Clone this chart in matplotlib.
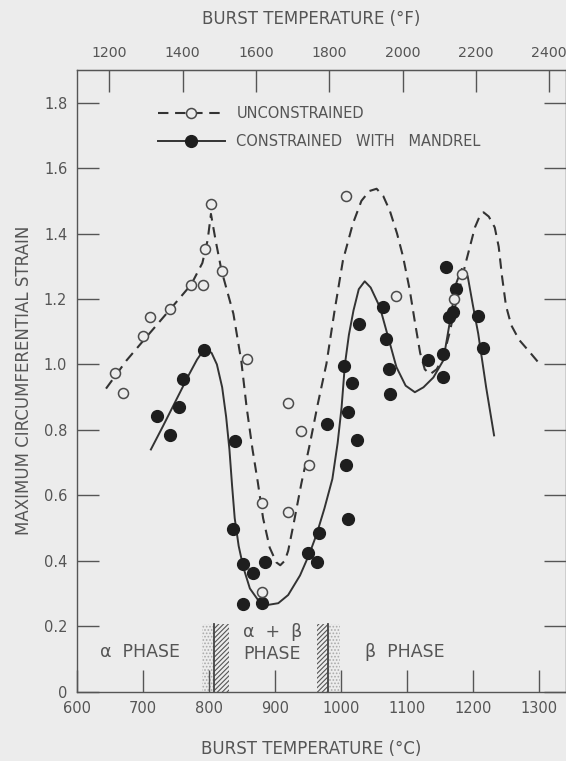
import numpy as np
import matplotlib.pyplot as plt
from matplotlib.lines import Line2D

# test points (deg C, strain)
unc_temp = [658, 670, 700, 711, 741, 773, 791, 794, 803, 819, 857, 880, 881,
            919, 920, 940, 952, 1007, 1083, 1171, 1183]
unc_strain = [0.975, 0.912, 1.088, 1.144, 1.168, 1.244, 1.243, 1.353, 1.491,
              1.287, 1.017, 0.575, 0.305, 0.549, 0.882, 0.796, 0.694, 1.514,
              1.209, 1.20, 1.277]

con_temp = [722, 741, 754, 761, 793, 840, 837, 852, 852, 866, 881, 885, 950,
            964, 966, 979, 1004, 1016, 1011, 1024, 1007, 1010, 1028, 1063,
            1069, 1073, 1074, 1132, 1155, 1154, 1159, 1175, 1170, 1164, 1207,
            1215]
con_strain = [0.841, 0.783, 0.870, 0.954, 1.043, 0.765, 0.498, 0.391, 0.269,
              0.361, 0.272, 0.396, 0.424, 0.395, 0.485, 0.818, 0.994, 0.943,
              0.853, 0.769, 0.691, 0.527, 1.124, 1.175, 1.078, 0.986, 0.911,
              1.013, 1.031, 0.963, 1.297, 1.231, 1.160, 1.146, 1.147, 1.050]

# faired curves
unc_curve_temp = [644, 675, 710, 741, 773, 790, 798, 803, 810, 819, 837, 849,
                  857, 866, 874, 882, 892, 902, 908, 915, 920, 928, 940, 953,
                  965, 978, 990, 1003, 1018, 1031, 1043, 1054, 1064, 1074,
                  1085, 1094, 1104, 1112, 1120, 1127, 1135, 1145, 1155, 1165,
                  1175, 1190, 1203, 1210, 1216, 1224, 1233, 1239, 1244, 1250,
                  1258, 1270, 1285, 1300]
unc_curve_strain = [0.926, 1.012, 1.095, 1.168, 1.244, 1.31, 1.38, 1.46, 1.38,
                    1.287, 1.155, 1.01, 0.87, 0.74, 0.64, 0.53, 0.44, 0.395,
                    0.386, 0.40, 0.43, 0.51, 0.636, 0.758, 0.88, 1.002, 1.16,
                    1.318, 1.43, 1.50, 1.53, 1.537, 1.515, 1.47, 1.40, 1.33,
                    1.23, 1.13, 1.035, 0.985, 0.97, 0.985, 1.022, 1.10, 1.195,
                    1.318, 1.419, 1.452, 1.465, 1.452, 1.419, 1.36, 1.27,
                    1.18, 1.12, 1.075, 1.04, 1.004]

con_curve_temp = [712, 730, 750, 770, 782, 790, 797, 804, 812, 820, 826, 831,
                  835, 839, 845, 852, 862, 875, 890, 905, 920, 938, 952, 963,
                  975, 987, 995, 1001, 1006, 1012, 1019, 1027, 1036, 1045, 1059,
                  1072, 1084, 1098, 1112, 1125, 1140, 1155, 1165, 1175, 1183,
                  1192, 1200, 1208, 1220, 1232]
con_curve_strain = [0.74, 0.81, 0.89, 0.97, 1.015, 1.038, 1.045, 1.035, 1.0,
                    0.93, 0.84, 0.74, 0.63, 0.53, 0.445, 0.38, 0.315, 0.278,
                    0.265, 0.27, 0.295, 0.355, 0.42, 0.48, 0.56, 0.65, 0.76,
                    0.87, 1.0, 1.09, 1.165, 1.23, 1.254, 1.235, 1.175, 1.08,
                    0.992, 0.935, 0.915, 0.93, 0.96, 1.012, 1.13, 1.25, 1.292,
                    1.27, 1.18, 1.094, 0.93, 0.783]

# phase boundary bands (deg C)
stipple_bands = [(790, 808), (980, 998)]
hatch_bands = [(808, 830), (963, 980)]
boundary_lines = [808, 980]
band_top = 0.205

phase_labels = ['\u03b1  PHASE', '\u03b1  +  \u03b2', 'PHASE', '\u03b2  PHASE']
phase_x = [695, 896, 896, 1097]
phase_y = [0.122, 0.183, 0.115, 0.122]

bg = '#ececec'
ink = '#333333'
txt = '#555555'

plt.rcParams['font.family'] = 'DejaVu Sans'
plt.rcParams['hatch.linewidth'] = 0.8

fig = plt.figure(figsize=(5.66, 7.61), dpi=100, facecolor=bg)
ax = fig.add_axes([0.136, 0.0913, 0.864, 0.8167])
ax.set_facecolor(bg)

for a, b in stipple_bands:
    ax.fill_between([a, b], 0, band_top, facecolor='none', edgecolor='#aaaaaa',
                    hatch='.....', linewidth=0)
for a, b in hatch_bands:
    ax.fill_between([a, b], 0, band_top, facecolor='none', edgecolor='#555555',
                    hatch='///////', linewidth=0)
for x in boundary_lines:
    ax.plot([x, x], [0, band_top], color='#444444', lw=1.3)

ax.plot(unc_curve_temp, unc_curve_strain, color=ink, lw=1.5,
        linestyle=(0, (5, 3.2)))
ax.plot(con_curve_temp, con_curve_strain, color=ink, lw=1.4)
ax.plot(con_temp, con_strain, 'o', ms=8.5, mfc='#1e1e1e', mec='#1e1e1e',
        linestyle='none')
ax.plot(unc_temp, unc_strain, 'o', ms=7.2, mfc=bg, mec='#4a4a4a', mew=1.1,
        linestyle='none')

for s, x, y in zip(phase_labels, phase_x, phase_y):
    ax.text(x, y, s, ha='center', va='center', fontsize=12.5, color=txt)

ax.set_xlim(600, 1341)
ax.set_ylim(0, 1.9)
ax.set_xticks(np.arange(600, 1301, 100))
ax.set_yticks(np.arange(0, 1.81, 0.2))
ax.set_yticklabels(['0'] + ['%.1f' % v for v in np.arange(0.2, 1.81, 0.2)])
ax.tick_params(axis='both', direction='in', length=16, width=1.0,
               color='#555555', labelcolor=txt, labelsize=10.5)
ax.tick_params(axis='x', pad=7)
ax.tick_params(axis='y', pad=7, right=True)
for sp in ax.spines.values():
    sp.set_color('#555555')
    sp.set_linewidth(1.0)

ax.set_xlabel('BURST TEMPERATURE (\u00b0C)', fontsize=12, color=txt)
ax.xaxis.set_label_coords(0.478, -0.078)
ax.set_ylabel('MAXIMUM CIRCUMFERENTIAL STRAIN', fontsize=12, color=txt,
              labelpad=8)

top = ax.secondary_xaxis('top', functions=(lambda c: c * 9 / 5 + 32,
                                           lambda f: (f - 32) * 5 / 9))
top.set_xticks(np.arange(1200, 2401, 200))
top.tick_params(direction='in', length=16, width=1.0, color='#555555',
                labelcolor=txt, labelsize=10.2, pad=7)
top.spines['top'].set_color('#555555')
top.set_xlabel('BURST TEMPERATURE (\u00b0F)', fontsize=12, color=txt,
               labelpad=16, x=0.478)

handles = [Line2D([], [], color=ink, lw=1.5, linestyle=(0, (5, 3.2)),
                  marker='o', ms=7.2, mfc=bg, mec='#4a4a4a', mew=1.1),
           Line2D([], [], color=ink, lw=1.4, marker='o', ms=8.5,
                  mfc='#1e1e1e', mec='#1e1e1e')]
leg = ax.legend(handles, ['UNCONSTRAINED', 'CONSTRAINED   WITH   MANDREL'],
                loc='upper left', bbox_to_anchor=(0.153, 0.951), frameon=False,
                handlelength=4.6, handletextpad=0.8, labelspacing=0.85,
                fontsize=10.5, borderaxespad=0)
for t in leg.get_texts():
    t.set_color(txt)

fig.savefig('out.png', dpi=100, facecolor=bg)
